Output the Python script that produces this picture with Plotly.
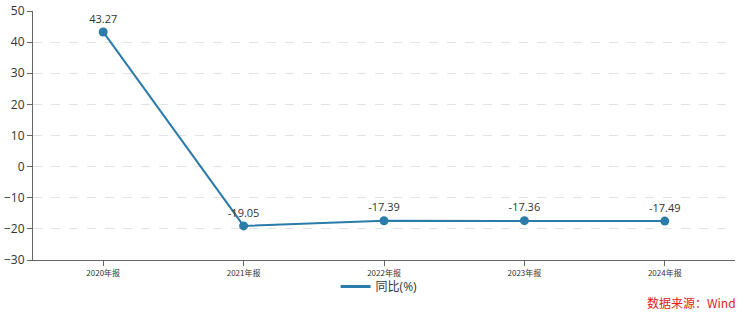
import plotly.graph_objects as go

categories = ["2020年报", "2021年报", "2022年报", "2023年报", "2024年报"]
yoy = [43.27, -19.05, -17.39, -17.36, -17.49]
labels = ["43.27", "-19.05", "-17.39", "-17.36", "-17.49"]
y_ticks = [-30, -20, -10, 0, 10, 20, 30, 40, 50]
series_name = "同比(%)"

color = "#2b7bab"
fig = go.Figure()
fig.add_trace(go.Scatter(
    x=categories, y=yoy, mode="lines+markers+text", name=series_name,
    line=dict(color=color, width=2), marker=dict(size=9, color=color),
    text=labels, textposition="top center",
    textfont=dict(size=11, color="#333333", family="Open Sans, Noto Sans CJK SC"),
    cliponaxis=False, showlegend=False,
))
# legend entry drawn as a plain line, like the reference
fig.add_trace(go.Scatter(
    x=[None], y=[None], mode="lines", name=series_name,
    line=dict(color=color, width=3), showlegend=True,
))
fig.update_layout(
    width=747, height=316,
    margin=dict(l=33, r=12, t=11, b=56, autoexpand=False),
    paper_bgcolor="white", plot_bgcolor="white",
    font=dict(family="Open Sans, Noto Sans CJK SC", color="#333333"),
    showlegend=True,
    legend=dict(orientation="h", x=0.493, xanchor="center", yref="container", y=0.093, yanchor="middle",
                bgcolor="rgba(0,0,0,0)",
                font=dict(size=12, color="#333333", family="Open Sans, Noto Sans CJK SC"),
                itemwidth=30),
    xaxis=dict(type="category", showline=True, linecolor="#666666", linewidth=1,
               ticks="outside", ticklen=5, tickcolor="#666666",
               tickfont=dict(size=8, color="#333333", family="Noto Sans CJK SC"),
               showgrid=False, range=[-0.5, 4.5], automargin=False),
    yaxis=dict(range=[-30, 50], tickvals=y_ticks, showline=True, linecolor="#666666", linewidth=1,
               ticks="outside", ticklen=5, tickcolor="#666666",
               tickfont=dict(size=12, color="#333333"),
               showgrid=True, gridcolor="#e3e3e3", griddash="dash", zeroline=False, automargin=False),
    annotations=[dict(text="数据来源：Wind", xref="paper", yref="paper", x=1.0, y=-0.169,
                      xanchor="right", yanchor="middle", showarrow=False, xshift=3,
                      font=dict(size=12, color="#e0201b", family="Noto Sans CJK SC"))],
)
fig.write_html("out.html")
